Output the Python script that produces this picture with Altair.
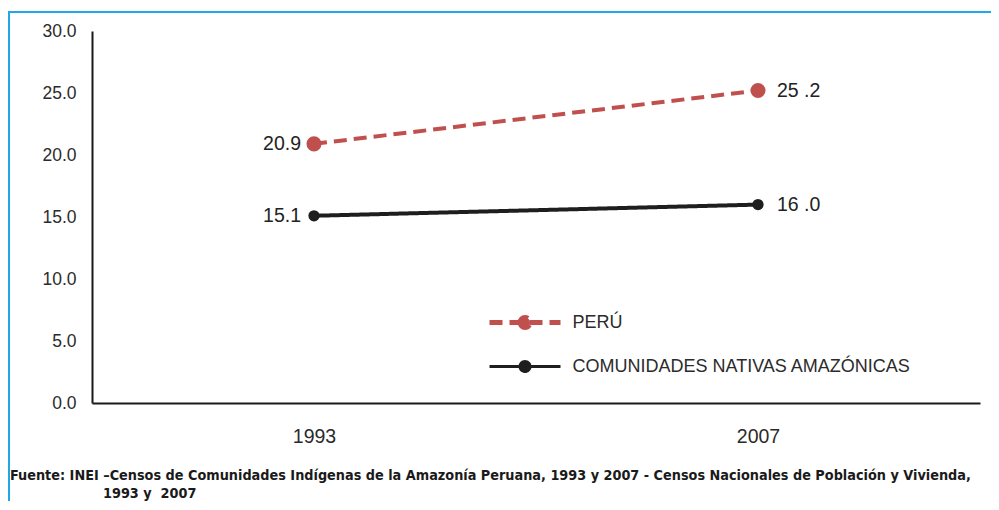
import altair as alt
import pandas as pd

years = ["1993", "2007"]
series = ["PERÚ", "COMUNIDADES NATIVAS AMAZÓNICAS"]
peru_values = [20.9, 25.2]
cna_values = [15.1, 16.0]
peru_labels = ["20.9", "25 .2"]
cna_labels = ["15.1", "16 .0"]
y_ticks = [0, 5, 10, 15, 20, 25, 30]
footer_1 = ("Fuente: INEI \u2013Censos de Comunidades Indígenas de la Amazonía Peruana, 1993 y 2007 - "
            "Censos Nacionales de Población y Vivienda,")
footer_2 = "1993 y\u00a0 2007"

colors = ["#C0504D", "#1E1E1E"]
FONT = "Liberation Sans"
FOOT_FONT = "DejaVu Sans Condensed, Liberation Sans Narrow, Liberation Sans"

rows = []
for s, vals, labs in [(series[0], peru_values, peru_labels), (series[1], cna_values, cna_labels)]:
    for yr, v, lab in zip(years, vals, labs):
        rows.append({"year": yr, "series": s, "value": v, "label": lab})
df = pd.DataFrame(rows)

W, H = 888, 372

x = alt.X("year:N", scale=alt.Scale(type="point", domain=years, padding=0.5),
          axis=alt.Axis(title=None, labelAngle=0, ticks=False, labelPadding=24,
                        labelFontSize=19.5, labelColor="#2b2b2b", labelFont=FONT,
                        domainColor="#1a1a1a", domainWidth=2, grid=False))
y = alt.Y("value:Q", scale=alt.Scale(domain=[0, 30], nice=False, zero=True),
          axis=alt.Axis(title=None, values=y_ticks, format=".1f", ticks=False, labelPadding=16,
                        labelFontSize=17.5, labelColor="#2b2b2b", labelFont=FONT,
                        domainColor="#1a1a1a", domainWidth=2, grid=False))

color_scale = alt.Scale(domain=series, range=colors)
legend_path = "M-3.55,0L3.55,0M-0.5,0A0.5,0.5,0,1,0,0.5,0A0.5,0.5,0,1,0,-0.5,0Z"

base = alt.Chart(df)

lines = base.mark_line(strokeWidth=4).encode(
    x=x, y=y,
    color=alt.Color("series:N", scale=color_scale, legend=alt.Legend(
        title=None, orient="none", legendX=420.5, legendY=279, padding=0,
        symbolType=legend_path, symbolSize=400, symbolStrokeWidth=3.5,
        labelFontSize=18, labelColor="#2b2b2b", labelFont=FONT, labelOffset=35,
        rowPadding=17, labelLimit=500)),
    strokeDash=alt.StrokeDash("series:N", scale=alt.Scale(domain=series, range=[[13, 7], [1, 0]])),
    strokeWidth=alt.StrokeWidth("series:N", scale=alt.Scale(domain=series, range=[5, 3]), legend=None),
)

points_peru = base.mark_point(filled=True, opacity=1, size=227).encode(
    x=x, y=y, color=alt.Color("series:N", scale=color_scale),
).transform_filter(alt.datum.series == series[0])
points_cna = base.mark_point(filled=True, opacity=1, size=127).encode(
    x=x, y=y, color=alt.Color("series:N", scale=color_scale),
).transform_filter(alt.datum.series == series[1])

labels_left = base.mark_text(align="right", baseline="middle", dx=-13, fontSize=19.5,
                             font=FONT, color="#222222").encode(
    x=x, y=y, text="label:N").transform_filter(alt.datum.year == years[0])
labels_right = base.mark_text(align="left", baseline="middle", dx=19, fontSize=19.5,
                              font=FONT, color="#222222").encode(
    x=x, y=y, text="label:N").transform_filter(alt.datum.year == years[1])

deco = pd.DataFrame({"a": [0]})
top_border = alt.Chart(deco).mark_rule(color="#1CA9E6", strokeWidth=2).encode(
    x=alt.value(-84), x2=alt.value(910), y=alt.value(-19))
left_border = alt.Chart(deco).mark_rule(color="#1CA9E6", strokeWidth=2).encode(
    x=alt.value(-83), y=alt.value(-19), y2=alt.value(480))

foot1 = alt.Chart(pd.DataFrame({"t": [footer_1]})).mark_text(
    align="left", baseline="middle", fontSize=14.3, fontWeight="bold", font=FOOT_FONT, color="#1a1a1a"
).encode(text="t:N", x=alt.value(-82), y=alt.value(445))
foot2 = alt.Chart(pd.DataFrame({"t": [footer_2]})).mark_text(
    align="left", baseline="middle", fontSize=14.3, fontWeight="bold", font=FOOT_FONT, color="#1a1a1a"
).encode(text="t:N", x=alt.value(11), y=alt.value(463))

chart = alt.layer(top_border, left_border, lines, points_peru, points_cna,
                  labels_left, labels_right, foot1, foot2).properties(
    width=W, height=H,
    autosize=alt.AutoSizeParams(type="none"),
    padding={"left": 84, "top": 23, "right": 11, "bottom": 98},
    background="white",
).configure_view(stroke=None)

chart.save("out.html", embed_options={"renderer": "svg", "actions": False})
